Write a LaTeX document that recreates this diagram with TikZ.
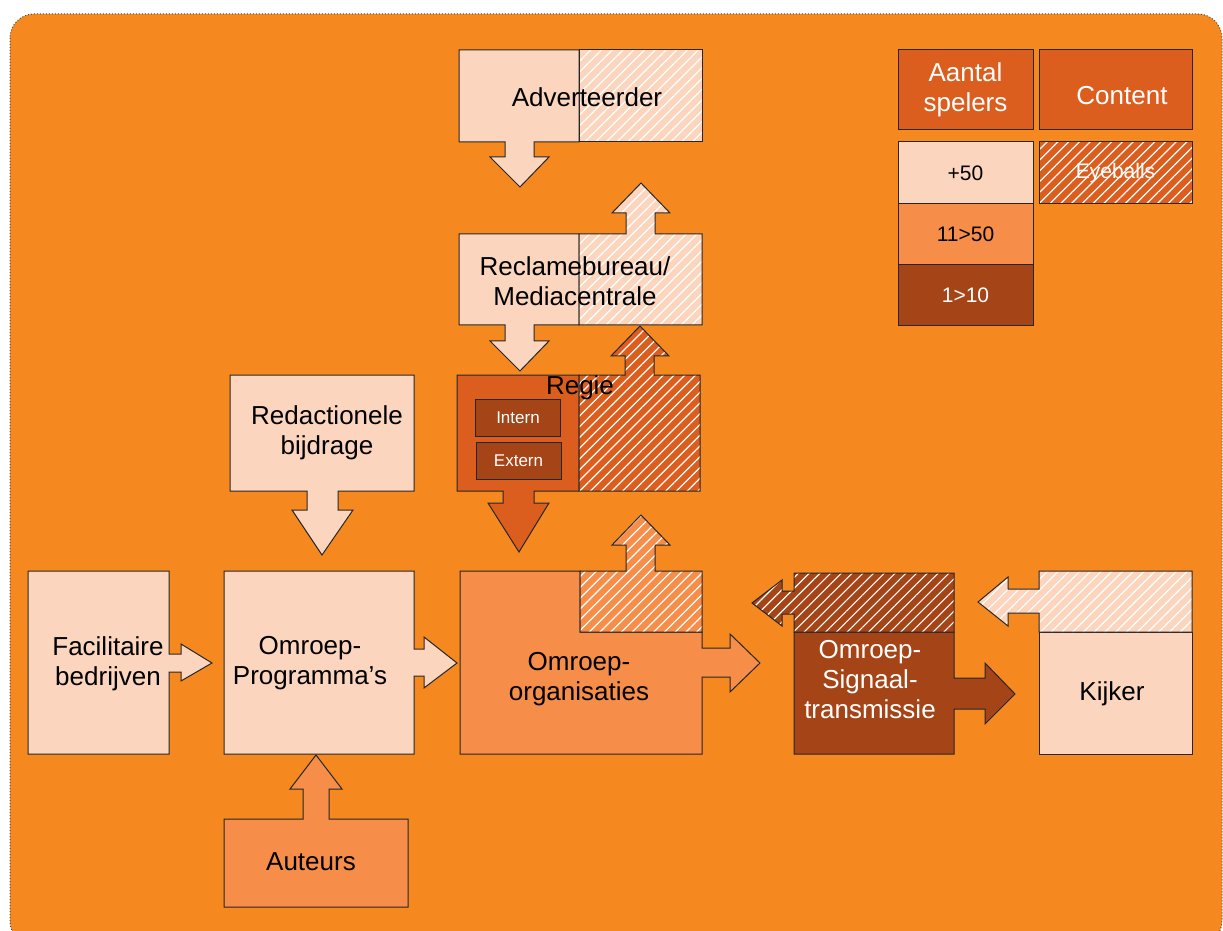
\documentclass[tikz,border=0pt]{standalone}
\usepackage{fontspec}
\setmainfont{Liberation Sans}
\usetikzlibrary{patterns.meta}

\definecolor{bgorange}{HTML}{F5891F}
\definecolor{peach}{HTML}{FBD5BD}
\definecolor{midorange}{HTML}{F68D48}
\definecolor{darkorange}{HTML}{DC5E1E}
\definecolor{rust}{HTML}{A54417}

\tikzset{
  block/.style={draw=black!85, line width=0.5pt},
  hatch/.style={postaction={pattern={Lines[angle=45,distance=3.8pt,line width=0.6pt]}, pattern color=white, fill opacity=0.55},
    postaction={draw=black!85, line width=0.5pt}},
  lbl/.style={align=center, inner sep=0pt, font=\fontsize{13}{15}\selectfont},
  legend/.style={block, inner sep=0pt, align=center, minimum width=67.5pt},
}

\begin{document}
\begin{tikzpicture}[x=0.5pt, y=-0.5pt]
\useasboundingbox (0,0) rectangle (1223,931);
% background
\fill[bgorange, draw=gray!60!black, densely dotted, line width=0.5pt, rounded corners=12pt]
  (10,14) rectangle (1222,945);

% Adverteerder
\fill[peach, block] (459,50) -- (579,50) -- (579,142) -- (534,142) -- (534,157) -- (549,157)
  -- (520,187) -- (490,157) -- (505,157) -- (505,142) -- (459,142) -- cycle;
\fill[peach, hatch] (579,50) rectangle (702,142);
\node[lbl] (adv) at (587,97) {Adverteerder};

% Reclamebureau
\fill[peach, block] (459,234) -- (579,234) -- (579,325) -- (534,325) -- (534,341) -- (549,341)
  -- (520,371) -- (490,341) -- (505,341) -- (505,325) -- (459,325) -- cycle;
\fill[peach, hatch] (579,325) -- (579,234) -- (626,234) -- (626,213) -- (612,213) -- (641,183)
  -- (670,213) -- (655,213) -- (655,234) -- (702,234) -- (702,325) -- cycle;
\node[lbl] (rec) at (575,281) {Reclamebureau/\\Mediacentrale};

% Regie
\fill[darkorange, block] (457,375) -- (579,375) -- (579,491) -- (534,491) -- (534,503) -- (549,503)
  -- (519,552) -- (488,503) -- (503,503) -- (503,491) -- (457,491) -- cycle;
\fill[darkorange, hatch] (579,491) -- (579,375) -- (625,375) -- (625,356) -- (611,356) -- (640,326)
  -- (669,356) -- (654,356) -- (654,375) -- (700,375) -- (700,491) -- cycle;
\node[lbl] (regie) at (580,388) {Regie};
\node[legend, fill=rust, text=white, minimum width=42.5pt, minimum height=18.5pt,
  font=\fontsize{8.5}{10}\selectfont] (intern) at (518,418) {Intern};
\node[legend, fill=rust, text=white, minimum width=42.5pt, minimum height=18.5pt,
  font=\fontsize{8.5}{10}\selectfont] (extern) at (518.5,460.5) {Extern};

% Redactionele bijdrage
\fill[peach, block] (230,375) -- (414,375) -- (414,491) -- (338,491) -- (338,510) -- (353,510)
  -- (322,555) -- (292,510) -- (307,510) -- (307,491) -- (230,491) -- cycle;
\node[lbl] (red) at (327,433) {Redactionele\\bijdrage};

% Facilitaire bedrijven
\fill[peach, block] (28,571) -- (169,571) -- (169,654) -- (181,654) -- (181,644) -- (212,663)
  -- (181,681) -- (181,672) -- (169,672) -- (169,754) -- (28,754) -- cycle;
\node[lbl] (fac) at (108,664) {Facilitaire\\bedrijven};

% Omroep-Programma's
\fill[peach, block] (224,571) -- (414,571) -- (414,649) -- (424,649) -- (424,637) -- (457,663)
  -- (424,688) -- (424,676) -- (414,676) -- (414,754) -- (224,754) -- cycle;
\node[lbl] (prog) at (310,663) {Omroep-\\Programma’s};

% Auteurs
\fill[midorange, block] (224,819) -- (303,819) -- (303,789) -- (290,789) -- (316,755) -- (342,789)
  -- (329,789) -- (329,819) -- (408,819) -- (408,907) -- (224,907) -- cycle;
\node[lbl] (aut) at (311,862) {Auteurs};

% Omroep-organisaties
\fill[midorange, block] (460,571) -- (580,571) -- (580,632) -- (702,632) -- (702,648) -- (730,648)
  -- (730,634) -- (760,663) -- (730,692) -- (730,677) -- (702,677) -- (702,754) -- (460,754) -- cycle;
\fill[midorange, hatch] (580,632) -- (580,571) -- (626,571) -- (626,545) -- (612,545) -- (641,515)
  -- (670,545) -- (655,545) -- (655,571) -- (702,571) -- (702,632) -- cycle;
\node[lbl] (org) at (579,679) {Omroep-\\organisaties};

% Omroep-Signaaltransmissie
\fill[rust, block] (794,632) -- (954,632) -- (954,678) -- (985,678) -- (985,663) -- (1015,694)
  -- (985,724) -- (985,709) -- (954,709) -- (954,754) -- (794,754) -- cycle;
\fill[rust, hatch] (794,632) -- (794,614) -- (782,614) -- (782,626) -- (752,603) -- (782,580)
  -- (782,591) -- (794,591) -- (794,573) -- (954,573) -- (954,632) -- cycle;
\node[lbl, text=white] (sig) at (870,680) {Omroep-\\Signaal-\\transmissie};

% Kijker
\fill[peach, block] (1039,632) rectangle (1192,754);
\fill[peach, hatch] (1039,632) -- (1039,613) -- (1008,613) -- (1008,626) -- (978,602) -- (1008,577)
  -- (1008,589) -- (1039,589) -- (1039,571) -- (1192,571) -- (1192,632) -- cycle;
\node[lbl] (kijk) at (1112,694) {Kijker};

% legenda
\node[legend, fill=darkorange, text=white, minimum height=40pt, font=\fontsize{13}{15}\selectfont]
  (spelers) at (965.5,90) {Aantal\\spelers};
\fill[darkorange, block] (1039,50) rectangle (1192,130);
\node[lbl, text=white] (content) at (1122,96) {Content};
\node[legend, fill=peach, minimum height=31pt, font=\fontsize{10.5}{12}\selectfont]
  (plus) at (965.5,173) {+50};
\node[legend, fill=midorange, minimum height=30.5pt, font=\fontsize{10.5}{12}\selectfont]
  (mid) at (965.5,234.5) {11>50};
\node[legend, fill=rust, text=white, minimum height=30.5pt, font=\fontsize{10.5}{12}\selectfont]
  (few) at (965.5,295.5) {1>10};
\fill[darkorange, hatch] (1039,142) rectangle (1192,204);
\node[text=white, font=\fontsize{10.5}{12}\selectfont] (eye) at (1115.5,173) {Eyeballs};
\end{tikzpicture}
\end{document}
